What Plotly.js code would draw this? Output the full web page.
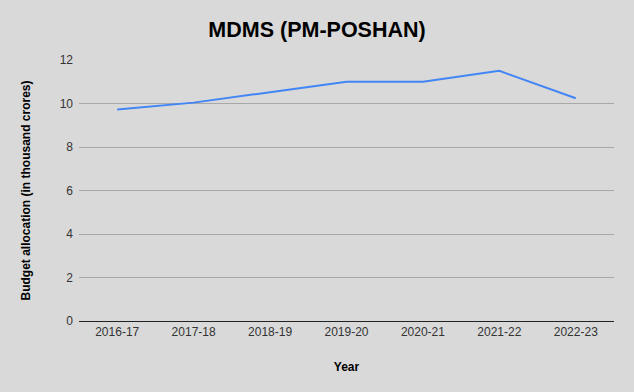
<!DOCTYPE html>
<html><head><meta charset="utf-8">
<script src="https://cdn.plot.ly/plotly-3.0.1.min.js"></script>
<style>html,body{margin:0;padding:0;background:#d9d9d9}</style>
</head><body><div id="chart" style="width:634px;height:392px"></div>
<script>
const years = ["2016-17","2017-18","2018-19","2019-20","2020-21","2021-22","2022-23"];
const allocation = [9.72, 10.04, 10.52, 11.0, 11.0, 11.5, 10.24];
const yTicks = [0, 2, 4, 6, 8, 10, 12];

Plotly.newPlot("chart", [{
  x: years, y: allocation, type: "scatter", mode: "lines",
  line: {color: "#4285F4", width: 2}, hoverinfo: "x+y"
}], {
  width: 634, height: 392,
  paper_bgcolor: "#d9d9d9", plot_bgcolor: "#d9d9d9",
  margin: {l: 79, r: 20, t: 60, b: 71},
  font: {family: "Liberation Sans, Arial, sans-serif", color: "#222"},
  title: {text: "<b>MDMS (PM-POSHAN)</b>", x: 0.5, xanchor: "center", y: 0.925, yanchor: "middle",
          font: {size: 21.5, color: "#000", family: "Liberation Sans, Arial, sans-serif"}},
  xaxis: {type: "category", range: [-0.5, 6.5], showgrid: false, zeroline: false,
          showline: true, linecolor: "#222", linewidth: 1, ticks: "",
          tickfont: {size: 12, color: "#333"},
          title: {text: "<b>Year</b>", font: {size: 12, color: "#000"}, standoff: 24}},
  yaxis: {range: [0, 12], tickvals: yTicks, ticktext: yTicks.map(String), showgrid: true,
          gridcolor: "#a8a8a8", gridwidth: 1, zeroline: false, showline: false, ticks: "",
          ticklen: 0, ticklabelstandoff: 5, tickfont: {size: 12, color: "#333"},
          title: {text: "<b>Budget allocation (in thousand crores)</b>", font: {size: 12, color: "#000"}, standoff: 26}},
  showlegend: false
}, {displayModeBar: false, staticPlot: true});
</script></body></html>
